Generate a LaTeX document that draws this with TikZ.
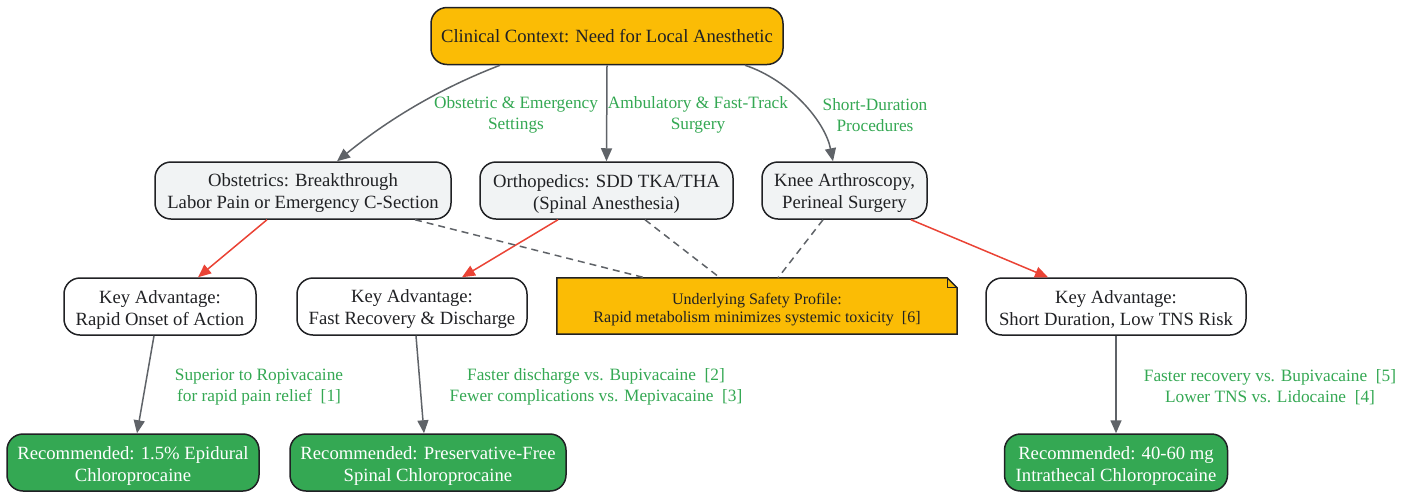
\documentclass[tikz,border=0pt]{standalone}
\usepackage{fontspec}
\setmainfont{Liberation Serif}
\usetikzlibrary{arrows.meta,calc}
\definecolor{gyellow}{HTML}{FBBC05}
\definecolor{ggreen}{HTML}{34A853}
\definecolor{gred}{HTML}{EA4335}
\definecolor{ggray}{HTML}{5F6368}
\definecolor{lgray}{HTML}{F1F3F4}
\definecolor{ink}{HTML}{202124}
\tikzset{
  box/.style={draw=ink, line width=1.5pt, rounded corners=16pt, align=center, text=ink,
    inner sep=2pt, minimum height=57pt, font=\fontsize{18.67}{22}\selectfont},
  twoline/.style={text height=41pt},
  topbox/.style={box, fill=gyellow},
  ctxbox/.style={box, twoline, fill=lgray},
  advbox/.style={box, twoline, fill=white},
  recbox/.style={box, twoline, fill=ggreen, text=white},
  elabel/.style={text=ggreen, align=center, inner sep=0pt, font=\fontsize{17.3}{21}\selectfont},
  arr/.style={-{Triangle[length=13pt,width=11pt]}, line width=1.5pt},
  grayedge/.style={arr, draw=ggray},
  rededge/.style={arr, draw=gred},
  dashedge/.style={draw=ggray, line width=1.5pt, dash pattern=on 7pt off 5pt},
}
\begin{document}
\begin{tikzpicture}[x=1pt,y=-1pt]
\useasboundingbox (0,0) rectangle (1410,491);

\node[topbox, minimum width=352pt] (top) at (607,36) {Clinical Context: Need for Local Anesthetic};

\node[ctxbox, minimum width=296pt] (obst) at (303,190.5) {Obstetrics: Breakthrough\\Labor Pain or Emergency C-Section};
\node[ctxbox, minimum width=253pt] (ortho) at (606.5,190.5) {Orthopedics: SDD TKA/THA\\(Spinal Anesthesia)};
\node[ctxbox, minimum width=165pt] (knee) at (844.5,190.5) {Knee Arthroscopy,\\Perineal Surgery};

\node[advbox, minimum width=192pt] (ka1) at (160,306.5) {Key Advantage:\\Rapid Onset of Action};
\node[advbox, minimum width=230pt] (ka2) at (412,306.5) {Key Advantage:\\Fast Recovery \& Discharge};
\node[advbox, minimum width=260pt] (ka3) at (1116,306.5) {Key Advantage:\\Short Duration, Low TNS Risk};

\node[align=center, text=ink, minimum width=400pt, minimum height=56pt, inner sep=0pt,
  font=\fontsize{16}{18.5}\selectfont] (note) at (757,306) {\phantom{Underlying Safety Profile:}};
\draw[draw=ink, fill=gyellow, line width=1.5pt]
  (note.south west) -- (note.south east) -- ([yshift=-10pt]note.north east)
  -- ([xshift=-10pt]note.north east) -- (note.north west) -- cycle;
\draw[draw=ink, line width=1.2pt]
  ([xshift=-10pt]note.north east) -- ([xshift=-10pt,yshift=-10pt]note.north east) -- ([yshift=-10pt]note.north east);
\node[align=center, text=ink, inner sep=0pt, font=\fontsize{16}{18.5}\selectfont] (notetext) at ([yshift=-3.5pt]note.center)
  {Underlying Safety Profile:\\Rapid metabolism minimizes systemic toxicity~~[6]};

\node[recbox, minimum width=252pt] (rec1) at (133,462.5) {Recommended: 1.5\% Epidural\\Chloroprocaine};
\node[recbox, minimum width=276pt] (rec2) at (428,462.5) {Recommended: Preservative-Free\\Spinal Chloroprocaine};
\node[recbox, minimum width=223pt] (rec3) at (1116,462.5) {Recommended: 40-60 mg\\Intrathecal Chloroprocaine};

% top edges
\draw[grayedge] ([xshift=-107pt]top.south) .. controls +(-70,27) and +(43,-35) .. ([xshift=34pt]obst.north);
\draw[grayedge] (top.south) -- (ortho.north);
\draw[grayedge] ([xshift=138pt]top.south) .. controls +(45,15) and +(-8,-40) .. ([xshift=-11.5pt]knee.north);

\node[elabel] (l1) at (516,115) {Obstetric \& Emergency\\Settings};
\node[elabel] (l2) at (698,115) {Ambulatory \& Fast-Track\\Surgery};
\node[elabel] (l3) at (875,115) {Short-Duration\\Procedures};

% red edges
\draw[rededge] ([xshift=-36pt]obst.south) -- ([xshift=38pt]ka1.north);
\draw[rededge] ([xshift=-48.5pt]ortho.south) -- ([xshift=50pt]ka2.north);
\draw[rededge] ([xshift=66.5pt]knee.south) -- ([xshift=-68pt]ka3.north);

% dashed edges
\draw[dashedge] ([xshift=112pt]obst.south) -- ([xshift=-112pt]note.north);
\draw[dashedge] ([xshift=38.5pt]ortho.south) -- ([xshift=-37pt]note.north);
\draw[dashedge] ([xshift=-21.5pt]knee.south) -- ([xshift=21pt]note.north);

% bottom edges
\draw[grayedge] ([xshift=-6pt]ka1.south) -- ([xshift=4pt]rec1.north);
\draw[grayedge] ([xshift=4pt]ka2.south) -- ([xshift=-4pt]rec2.north);
\draw[grayedge] (ka3.south) -- (rec3.north);

\node[elabel] (l4) at (259,387) {Superior to Ropivacaine\\for rapid pain relief~~[1]};
\node[elabel] (l5) at (596,387) {Faster discharge vs. Bupivacaine~~[2]\\Fewer complications vs. Mepivacaine~~[3]};
\node[elabel] (l6) at (1270,387) {Faster recovery vs. Bupivacaine~~[5]\\Lower TNS vs. Lidocaine~~[4]};
\end{tikzpicture}
\end{document}
